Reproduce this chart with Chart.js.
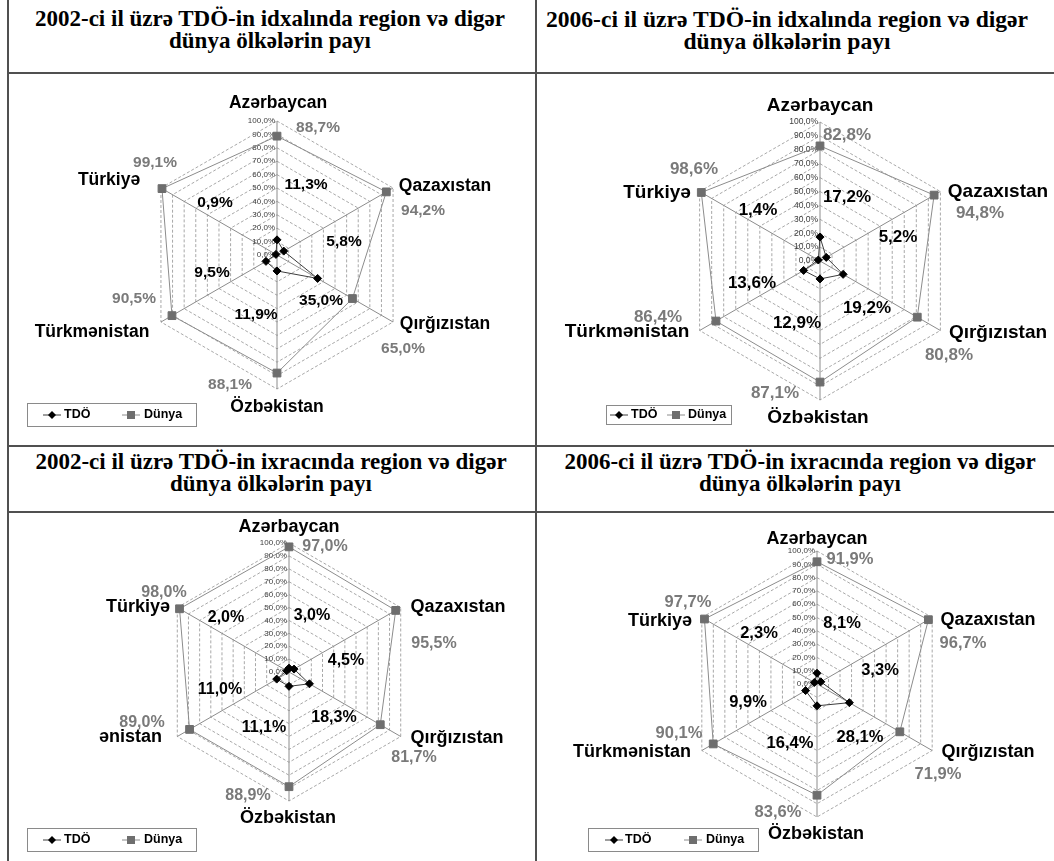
<!DOCTYPE html>
<html lang="az">
<head>
<meta charset="utf-8">
<title>TDÖ-in idxal və ixracında region və digər dünya ölkələrin payı</title>
<script src="https://cdn.jsdelivr.net/npm/chart.js@4.4.1/dist/chart.umd.min.js"></script>
<style>
  body { margin: 0; background: #fff; }
  #sehife { position: relative; width: 1054px; height: 861px; overflow: hidden; background: #fff; }
  .xett { position: absolute; background: #505050; }
  .basliq {
    position: absolute;
    font: bold 23px "Liberation Serif", "Times New Roman", serif;
    line-height: 22px;
    text-align: center;
    white-space: nowrap;
    color: #000;
  }
  canvas { position: absolute; }
</style>
</head>
<body>
<div id="sehife">
  <div class="xett" style="left:7px;top:0;width:2px;height:861px"></div>
  <div class="xett" style="left:535px;top:0;width:2px;height:861px"></div>
  <div class="xett" style="left:7px;top:72px;width:1047px;height:2px"></div>
  <div class="xett" style="left:7px;top:445px;width:1047px;height:2px"></div>
  <div class="xett" style="left:7px;top:511px;width:1047px;height:2px"></div>

  <div class="basliq" style="left:9px;top:8px;width:522px">2002-ci il üzrə TDÖ-in idxalında region və digər<br>dünya ölkələrin payı</div>
  <div class="basliq" style="left:537px;top:8px;width:500px;font-size:23.6px">2006-ci il üzrə TDÖ-in idxalında region və digər<br>dünya ölkələrin payı</div>
  <div class="basliq" style="left:9px;top:451px;width:524px">2002-ci il üzrə TDÖ-in ixracında region və digər<br>dünya ölkələrin payı</div>
  <div class="basliq" style="left:537px;top:451px;width:526px">2006-ci il üzrə TDÖ-in ixracında region və digər<br>dünya ölkələrin payı</div>

  <canvas id="qrafik1"></canvas>
  <canvas id="qrafik2"></canvas>
  <canvas id="qrafik3"></canvas>
  <canvas id="qrafik4"></canvas>
</div>

<script>
// ölkələr və seriyalar
const kateqoriyalar = ['Azərbaycan', 'Qazaxıstan', 'Qırğızıstan', 'Özbəkistan', 'Türkmənistan', 'Türkiyə'];
const seriyalar = ['TDÖ', 'Dünya'];
const tikDeyerleri = [0, 10, 20, 30, 40, 50, 60, 70, 80, 90, 100];

// paylar, %
const idxal2002TDO   = [11.3, 5.8, 35.0, 11.9, 9.5, 0.9];
const idxal2002Dunya = [88.7, 94.2, 65.0, 88.1, 90.5, 99.1];
const idxal2006TDO   = [17.2, 5.2, 19.2, 12.9, 13.6, 1.4];
const idxal2006Dunya = [82.8, 94.8, 80.8, 87.1, 86.4, 98.6];
const ixrac2002TDO   = [3.0, 4.5, 18.3, 11.1, 11.0, 2.0];
const ixrac2002Dunya = [97.0, 95.5, 81.7, 88.9, 89.0, 98.0];
const ixrac2006TDO   = [8.1, 3.3, 28.1, 16.4, 9.9, 2.3];
const ixrac2006Dunya = [91.9, 96.7, 71.9, 83.6, 90.1, 97.7];

const SANS = '"Liberation Sans", Arial, sans-serif';

function faiz(v) {
    return v.toFixed(1).replace('.', ',') + '%';
}

// tiklər, ölkə adları, dəyərlər və legend
const yazilarPlugin = {
    id: 'yazilar',
    beforeDatasetsDraw(chart, args, o) {
        const sc = chart.scales.r;
        const ctx = chart.ctx;
        ctx.save();
        ctx.font = o.tikFont + 'px ' + SANS;
        ctx.fillStyle = '#404040';
        ctx.textAlign = 'right';
        ctx.textBaseline = 'middle';
        tikDeyerleri.forEach(t => {
            ctx.fillText(faiz(t), sc.xCenter - 2, sc.yCenter - sc.getDistanceFromCenterForValue(t));
        });
        ctx.restore();
    },
    afterDatasetsDraw(chart, args, o) {
        const sc = chart.scales.r;
        const ctx = chart.ctx;
        const cx = sc.xCenter, cy = sc.yCenter;
        ctx.save();
        ctx.textAlign = 'center';
        ctx.textBaseline = 'middle';

        ctx.font = 'bold ' + o.adFont + 'px ' + SANS;
        ctx.fillStyle = '#000';
        chart.data.labels.forEach((ad, i) => {
            ctx.save();
            if (o.kesik && o.kesik[i] != null) {
                ctx.beginPath();
                ctx.rect(o.kesik[i] - o.x0, 0, chart.width, chart.height);
                ctx.clip();
            }
            ctx.fillText(ad, cx + o.adYeri[i][0], cy + o.adYeri[i][1]);
            ctx.restore();
        });

        ctx.font = 'bold ' + o.deyerFont + 'px ' + SANS;
        chart.data.datasets.forEach((ds, di) => {
            ctx.fillStyle = di === 0 ? '#000' : '#7a7a7a';
            ds.data.forEach((v, i) => {
                const p = o.deyerYeri[di][i];
                ctx.fillText(faiz(v), cx + p[0], cy + p[1]);
            });
        });

        // legend
        const lg = o.legend;
        const lx = lg.kutu[0] - o.x0, ly = lg.kutu[1] - o.y0;
        ctx.strokeStyle = '#8a8a8a';
        ctx.lineWidth = 1;
        ctx.strokeRect(lx + 0.5, ly + 0.5, lg.kutu[2], lg.kutu[3]);
        const my = ly + lg.kutu[3] / 2 + 0.5;
        ctx.font = 'bold ' + lg.font + 'px ' + SANS;
        ctx.textAlign = 'left';
        chart.data.datasets.forEach((ds, di) => {
            const sx = lg.yer[di][0] - o.x0;
            const tx = lg.yer[di][1] - o.x0;
            ctx.strokeStyle = ds.borderColor;
            ctx.beginPath();
            ctx.moveTo(sx, my);
            ctx.lineTo(sx + 18, my);
            ctx.stroke();
            ctx.fillStyle = ds.pointBackgroundColor;
            const mx = sx + 9;
            if (ds.pointStyle === 'rectRot') {
                ctx.beginPath();
                ctx.moveTo(mx, my - 4);
                ctx.lineTo(mx + 4, my);
                ctx.lineTo(mx, my + 4);
                ctx.lineTo(mx - 4, my);
                ctx.closePath();
                ctx.fill();
            } else {
                ctx.fillRect(mx - 4, my - 4, 8, 8);
            }
            ctx.fillStyle = '#000';
            ctx.fillText(ds.label, tx, my);
        });
        ctx.restore();
    }
};

// hər qrafikin yeri (səhifə koordinatları) və yazıların yerləşməsi
const qrafikler = [
    {
        id: 'qrafik1', tdo: idxal2002TDO, dunya: idxal2002Dunya,
        kutu: [9, 74, 526, 371], merkez: [277, 255], r: 134,
        tikFont: 8, adFont: 17.5, deyerFont: 15.5,
        adYeri: [[1, -152], [168, -69], [168, 69], [0, 152], [-185, 77], [-168, -75]],
        deyerYeri: [
            [[29, -70], [67, -13], [44, 46], [-21, 60], [-65, 18], [-62, -52]],
            [[41, -127], [146, -44], [126, 94], [-47, 130], [-143, 44], [-122, -92]]
        ],
        legend: { kutu: [27, 403, 169, 23], font: 12.5, yer: [[43, 64], [122, 144]] }
    },
    {
        id: 'qrafik2', tdo: idxal2006TDO, dunya: idxal2006Dunya,
        kutu: [537, 74, 517, 371], merkez: [820, 261], r: 139,
        tikFont: 8.5, adFont: 19, deyerFont: 17,
        adYeri: [[0, -155], [178, -69], [178, 72], [-2, 157], [-193, 71], [-163, -68]],
        deyerYeri: [
            [[27, -64], [78, -24], [47, 47], [-23, 62], [-68, 22], [-62, -51]],
            [[27, -126], [160, -48], [129, 94], [-45, 132], [-162, 56], [-126, -92]]
        ],
        legend: { kutu: [606, 405, 125, 19], font: 12.5, yer: [[610, 631], [667, 688]] }
    },
    {
        id: 'qrafik3', tdo: ixrac2002TDO, dunya: ixrac2002Dunya,
        kutu: [9, 513, 526, 348], merkez: [289, 672], r: 129,
        tikFont: 8, adFont: 18, deyerFont: 16,
        adYeri: [[0, -145], [169, -65], [168, 66], [-1, 146], [-186, 65], [-151, -65]],
        kesik: [null, null, null, null, 99, null],
        deyerYeri: [
            [[23, -56], [57, -11], [45, 46], [-25, 56], [-69, 18], [-63, -54]],
            [[36, -125], [145, -28], [125, 86], [-41, 124], [-147, 51], [-125, -79]]
        ],
        legend: { kutu: [27, 828, 169, 23], font: 12.5, yer: [[43, 64], [122, 144]] }
    },
    {
        id: 'qrafik4', tdo: ixrac2006TDO, dunya: ixrac2006Dunya,
        kutu: [537, 513, 517, 348], merkez: [817, 684], r: 133,
        tikFont: 8, adFont: 18, deyerFont: 16.5,
        adYeri: [[0, -145], [171, -64], [171, 68], [-1, 150], [-185, 68], [-157, -63]],
        deyerYeri: [
            [[25, -61], [63, -14], [43, 53], [-27, 59], [-69, 18], [-58, -51]],
            [[33, -125], [146, -41], [121, 90], [-39, 128], [-138, 49], [-129, -82]]
        ],
        legend: { kutu: [588, 828, 170, 23], font: 12.5, yer: [[605, 625], [684, 706]] }
    }
];

function qrafikQur(q) {
    const canvas = document.getElementById(q.id);
    const [x0, y0, w, h] = q.kutu;
    canvas.style.left = x0 + 'px';
    canvas.style.top = y0 + 'px';
    canvas.width = w;
    canvas.height = h;

    const cx = q.merkez[0] - x0;
    const cy = q.merkez[1] - y0;

    new Chart(canvas.getContext('2d'), {
        type: 'radar',
        data: {
            labels: kateqoriyalar,
            datasets: [
                {
                    label: seriyalar[0],
                    data: q.tdo,
                    borderColor: '#3c3c3c',
                    borderWidth: 1,
                    fill: false,
                    pointStyle: 'rectRot',
                    pointRadius: 4,
                    pointBackgroundColor: '#000',
                    pointBorderColor: '#000',
                    pointBorderWidth: 1
                },
                {
                    label: seriyalar[1],
                    data: q.dunya,
                    borderColor: '#8c8c8c',
                    borderWidth: 1,
                    fill: false,
                    pointStyle: 'rect',
                    pointRadius: 5.5,
                    pointBackgroundColor: '#6e6e6e',
                    pointBorderColor: '#6e6e6e',
                    pointBorderWidth: 1
                }
            ]
        },
        options: {
            responsive: false,
            animation: false,
            devicePixelRatio: 1,
            layout: {
                padding: {
                    left: cx - q.r,
                    top: cy - q.r,
                    right: w - cx - q.r,
                    bottom: h - cy - q.r
                }
            },
            plugins: {
                legend: { display: false },
                tooltip: { enabled: false },
                yazilar: {
                    x0: x0, y0: y0,
                    tikFont: q.tikFont, adFont: q.adFont, deyerFont: q.deyerFont,
                    adYeri: q.adYeri, deyerYeri: q.deyerYeri, kesik: q.kesik,
                    legend: q.legend
                }
            },
            scales: {
                r: {
                    min: 0,
                    max: 100,
                    ticks: { stepSize: 10, display: false },
                    pointLabels: { display: false },
                    grid: { color: '#a8a8a8', lineWidth: 1, circular: false },
                    border: { dash: [3, 2] },
                    angleLines: { color: '#8c8c8c', lineWidth: 1 }
                }
            }
        },
        plugins: [yazilarPlugin]
    });
}

qrafikler.forEach(qrafikQur);
</script>
</body>
</html>
